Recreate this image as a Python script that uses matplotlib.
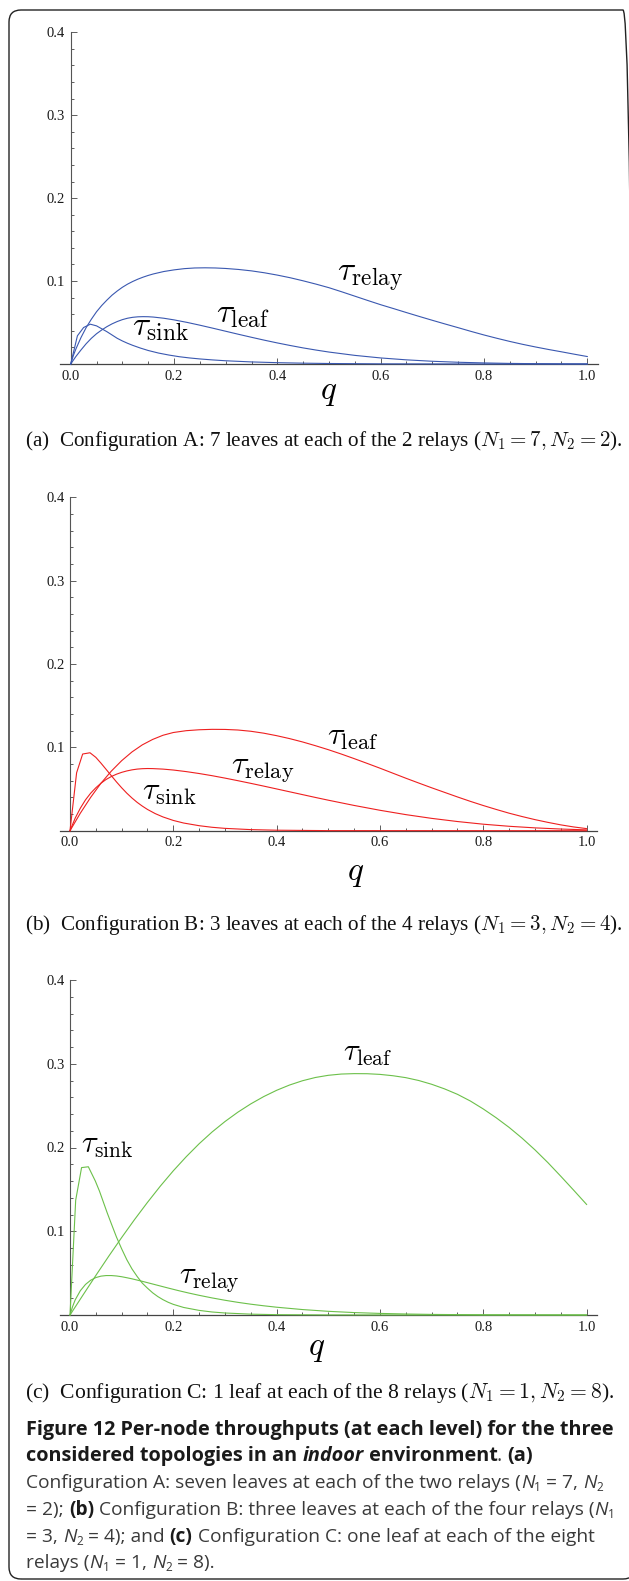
import matplotlib
matplotlib.use("Agg")
import matplotlib.pyplot as plt
import numpy as np
from matplotlib.patches import FancyBboxPatch
from matplotlib.transforms import IdentityTransform
from matplotlib.ticker import FixedLocator, FuncFormatter

plt.rcParams['mathtext.fontset'] = 'cm'

# ---------------- data ----------------
# Panel A (blue): N1 = 7, N2 = 2
qA_relay = [0, 0.005, 0.01, 0.02, 0.03, 0.04, 0.05, 0.06, 0.07, 0.08, 0.09, 0.10, 0.11, 0.12, 0.13, 0.14,
            0.15, 0.16, 0.18, 0.20, 0.22, 0.24, 0.26, 0.28, 0.30, 0.325, 0.35, 0.375, 0.40, 0.425, 0.45,
            0.475, 0.50, 0.525, 0.55, 0.575, 0.60, 0.625, 0.65, 0.675, 0.70, 0.725, 0.75, 0.775, 0.80,
            0.825, 0.85, 0.875, 0.90, 0.925, 0.95, 0.975, 1.00]
tA_relay = [0, 0.010, 0.018, 0.032, 0.044, 0.054, 0.063, 0.0705, 0.077, 0.083, 0.088, 0.0925, 0.0963, 0.0995,
            0.1023, 0.1047, 0.1068, 0.1086, 0.1115, 0.1135, 0.1150, 0.1158, 0.1160, 0.1158, 0.1152, 0.1140,
            0.1123, 0.1100, 0.1072, 0.1040, 0.1003, 0.0963, 0.0920, 0.0870, 0.0818, 0.0766, 0.0715, 0.0668,
            0.0620, 0.0573, 0.0527, 0.0482, 0.0438, 0.0393, 0.0350, 0.0310, 0.0272, 0.0237, 0.0205, 0.0175,
            0.0147, 0.0118, 0.0090]
qA_leaf = [0, 0.01, 0.02, 0.03, 0.04, 0.05, 0.06, 0.07, 0.08, 0.09, 0.10, 0.11, 0.12, 0.13, 0.14, 0.15,
           0.16, 0.18, 0.20, 0.225, 0.25, 0.275, 0.30, 0.325, 0.35, 0.375, 0.40, 0.425, 0.45, 0.475, 0.50,
           0.55, 0.60, 0.65, 0.70, 0.75, 0.80, 0.85, 0.90, 0.95, 1.00]
tA_leaf = [0, 0.009, 0.017, 0.0245, 0.031, 0.0365, 0.041, 0.045, 0.0484, 0.0512, 0.0535, 0.0552, 0.0563,
           0.0569, 0.0571, 0.0570, 0.0566, 0.0552, 0.0532, 0.0502, 0.0468, 0.0432, 0.0395, 0.0358, 0.0322,
           0.0287, 0.0254, 0.0223, 0.0194, 0.0168, 0.0144, 0.0104, 0.0073, 0.0050, 0.0033, 0.0021, 0.0013,
           0.0007, 0.0004, 0.0002, 0.0001]
qA_sink = [0, 0.013, 0.025, 0.038, 0.05, 0.06, 0.07, 0.08, 0.09, 0.10, 0.11, 0.12, 0.135, 0.15, 0.17, 0.19,
           0.21, 0.23, 0.25, 0.275, 0.30, 0.35, 0.40, 0.45, 0.50, 0.60, 0.70, 1.00]
tA_sink = [0, 0.034, 0.044, 0.048, 0.046, 0.0425, 0.039, 0.035, 0.031, 0.0278, 0.0250, 0.0225, 0.0192, 0.0163,
           0.0132, 0.0108, 0.0088, 0.0073, 0.0061, 0.0049, 0.0039, 0.0025, 0.0016, 0.0010, 0.0006, 0.0002,
           0.0001, 0.0]

# Panel B (red): N1 = 3, N2 = 4
qB_leaf = [0, 0.02, 0.04, 0.06, 0.08, 0.10, 0.12, 0.14, 0.16, 0.18, 0.20, 0.225, 0.25, 0.275, 0.30, 0.325,
           0.35, 0.375, 0.40, 0.425, 0.45, 0.475, 0.50, 0.525, 0.55, 0.575, 0.60, 0.625, 0.65, 0.675, 0.70,
           0.725, 0.75, 0.775, 0.80, 0.825, 0.85, 0.875, 0.90, 0.925, 0.95, 0.975, 1.00]
tB_leaf = [0, 0.021, 0.040, 0.057, 0.0715, 0.0840, 0.0945, 0.1030, 0.1095, 0.1145, 0.1178, 0.1200, 0.1211,
           0.1216, 0.1215, 0.1208, 0.1193, 0.1170, 0.1140, 0.1105, 0.1065, 0.1020, 0.0972, 0.0920, 0.0865,
           0.0808, 0.0750, 0.0690, 0.0630, 0.0572, 0.0515, 0.0460, 0.0405, 0.0352, 0.0302, 0.0255, 0.0210,
           0.0170, 0.0133, 0.0100, 0.0070, 0.0045, 0.0025]
qB_relay = [0, 0.01, 0.02, 0.03, 0.04, 0.05, 0.06, 0.07, 0.08, 0.09, 0.10, 0.11, 0.12, 0.13, 0.14, 0.15,
            0.16, 0.18, 0.20, 0.225, 0.25, 0.275, 0.30, 0.325, 0.35, 0.375, 0.40, 0.425, 0.45, 0.475, 0.50,
            0.55, 0.60, 0.65, 0.70, 0.75, 0.80, 0.85, 0.90, 0.95, 1.00]
tB_relay = [0, 0.015, 0.027, 0.037, 0.045, 0.0515, 0.057, 0.0615, 0.065, 0.0678, 0.0700, 0.0717, 0.0730,
            0.0739, 0.0744, 0.0746, 0.0745, 0.0739, 0.0728, 0.0709, 0.0686, 0.0660, 0.0631, 0.0600, 0.0568,
            0.0535, 0.0501, 0.0467, 0.0433, 0.0399, 0.0366, 0.0303, 0.0245, 0.0193, 0.0148, 0.0110, 0.0078,
            0.0053, 0.0034, 0.0020, 0.0010]
qB_sink = [0, 0.0128, 0.0245, 0.0387, 0.05, 0.06, 0.07, 0.08, 0.09, 0.10, 0.11, 0.12, 0.13, 0.14, 0.15,
           0.165, 0.18, 0.20, 0.22, 0.25, 0.275, 0.30, 0.35, 0.40, 0.50, 1.00]
tB_sink = [0, 0.0695, 0.092, 0.0935, 0.088, 0.081, 0.0735, 0.0660, 0.0585, 0.0515, 0.0450, 0.0392, 0.0340,
           0.0295, 0.0255, 0.0205, 0.0165, 0.0123, 0.0092, 0.0060, 0.0041, 0.0028, 0.0013, 0.0006, 0.0001, 0.0]

# Panel C (green): N1 = 1, N2 = 8
qC_leaf = [0, 0.025, 0.05, 0.075, 0.10, 0.125, 0.15, 0.175, 0.20, 0.225, 0.25, 0.275, 0.30, 0.325, 0.35,
           0.375, 0.40, 0.425, 0.45, 0.475, 0.50, 0.525, 0.55, 0.575, 0.60, 0.625, 0.65, 0.675, 0.70, 0.725,
           0.75, 0.775, 0.80, 0.825, 0.85, 0.875, 0.90, 0.925, 0.95, 0.975, 1.00]
tC_leaf = [0, 0.0237, 0.0472, 0.0702, 0.0925, 0.1140, 0.1345, 0.1540, 0.1722, 0.1890, 0.2045, 0.2185, 0.2310,
           0.2422, 0.2521, 0.2608, 0.2683, 0.2746, 0.2797, 0.2836, 0.2862, 0.2877, 0.2882, 0.2881, 0.2873,
           0.2857, 0.2834, 0.2800, 0.2755, 0.2700, 0.2635, 0.2555, 0.2460, 0.2355, 0.2240, 0.2112, 0.1972,
           0.1820, 0.1657, 0.1490, 0.1320]
qC_sink = [0, 0.011, 0.0224, 0.0355, 0.049, 0.057, 0.0645, 0.072, 0.08, 0.09, 0.10, 0.11, 0.12, 0.13, 0.14,
           0.15, 0.16, 0.17, 0.18, 0.19, 0.20, 0.22, 0.25, 0.275, 0.30, 0.35, 0.40, 0.50, 1.00]
tC_sink = [0, 0.137, 0.176, 0.177, 0.160, 0.148, 0.135, 0.122, 0.109, 0.093, 0.079, 0.066, 0.055, 0.046,
           0.038, 0.032, 0.0265, 0.022, 0.0183, 0.0152, 0.0127, 0.0090, 0.0055, 0.0036, 0.0024, 0.0010,
           0.0004, 0.0001, 0.0]
qC_relay = [0, 0.005, 0.01, 0.02, 0.03, 0.04, 0.05, 0.06, 0.07, 0.08, 0.09, 0.10, 0.11, 0.12, 0.13, 0.14,
            0.15, 0.17, 0.19, 0.21, 0.23, 0.25, 0.275, 0.30, 0.325, 0.35, 0.375, 0.40, 0.45, 0.50, 0.55,
            0.60, 0.65, 0.70, 0.80, 0.90, 1.00]
tC_relay = [0, 0.010, 0.018, 0.029, 0.0365, 0.0415, 0.0447, 0.0464, 0.0471, 0.0471, 0.0466, 0.0457, 0.0445,
            0.0432, 0.0417, 0.0402, 0.0386, 0.0354, 0.0322, 0.0291, 0.0262, 0.0235, 0.0204, 0.0176, 0.0151,
            0.0129, 0.0110, 0.0093, 0.0065, 0.0044, 0.0029, 0.0019, 0.0012, 0.0007, 0.0002, 0.0001, 0.0]

x_ticks = [0.0, 0.2, 0.4, 0.6, 0.8, 1.0]
y_ticks = [0.1, 0.2, 0.3, 0.4]

captions = [
    r"(a)  Configuration A: 7 leaves at each of the 2 relays ($N_1 = 7, N_2 = 2$).",
    r"(b)  Configuration B: 3 leaves at each of the 4 relays ($N_1 = 3, N_2 = 4$).",
    r"(c)  Configuration C: 1 leaf at each of the 8 relays ($N_1 = 1, N_2 = 8$).",
]

# ---------------- figure ----------------
W, H = 629, 1581
fig = plt.figure(figsize=(W / 100, H / 100), dpi=100)
renderer = fig.canvas.get_renderer()

XL, XR = -0.02, 1.02


def make_axes(x0_px, x1_px, ytop_px, ybot_px):
    u = x1_px - x0_px
    left = x0_px + XL * u
    right = x0_px + XR * u
    ax = fig.add_axes([left / W, 1 - ybot_px / H, (right - left) / W, (ybot_px - ytop_px) / H])
    ax.set_xlim(XL, XR)
    ax.set_ylim(0, 0.4)
    ax.patch.set_alpha(0)
    for s in ['top', 'right']:
        ax.spines[s].set_visible(False)
    ax.spines['left'].set_position(('data', 0))
    ax.spines['left'].set_color('#555555')
    ax.spines['bottom'].set_color('#444444')
    ax.spines['left'].set_linewidth(0.8)
    ax.spines['bottom'].set_linewidth(0.9)
    ax.xaxis.set_major_locator(FixedLocator(x_ticks))
    ax.xaxis.set_minor_locator(FixedLocator(np.arange(0.05, 1.0, 0.05)))
    ax.yaxis.set_major_locator(FixedLocator(y_ticks))
    ax.yaxis.set_minor_locator(FixedLocator(np.arange(0.02, 0.4, 0.02)))
    ax.xaxis.set_major_formatter(FuncFormatter(lambda v, p: f"{v:.1f}"))
    ax.yaxis.set_major_formatter(FuncFormatter(lambda v, p: f"{v:.1f}"))
    ax.tick_params(which='both', direction='in', color='#444444', width=0.6,
                   labelsize=10.5, labelcolor='#1a1a1a', labelfontfamily='Liberation Serif')
    ax.tick_params(which='major', length=4.5)
    ax.tick_params(which='minor', length=2.2)
    ax.tick_params(axis='x', pad=4)
    ax.tick_params(axis='y', pad=4)
    return ax


def tau_label(ax, x, y, sub, size):
    ax.text(x, y, r"$\tau_{\mathrm{" + sub + r"}}$", fontsize=size, math_fontfamily='cm',
            ha='left', va='baseline', color='black')


panels = [
    dict(x0=70.7, x1=587.3, ytop=32.3, ybot=364.0, color='#3a58b0',
         series=[(qA_relay, tA_relay), (qA_leaf, tA_leaf), (qA_sink, tA_sink)],
         labels=[(0.515, 0.100, 'relay'), (0.282, 0.050, 'leaf'), (0.118, 0.034, 'sink')],
         lsize=24, q=(329, 391), cap=(441, 597)),
    dict(x0=70.0, x1=586.6, ytop=497.3, ybot=830.7, color='#ee2020',
         series=[(qB_leaf, tB_leaf), (qB_relay, tB_relay), (qB_sink, tB_sink)],
         labels=[(0.498, 0.103, 'leaf'), (0.312, 0.069, 'relay'), (0.14, 0.037, 'sink')],
         lsize=23, q=(356, 873), cap=(925, 597)),
    dict(x0=70.0, x1=586.6, ytop=980.0, ybot=1315.0, color='#6cc04a',
         series=[(qC_leaf, tC_leaf), (qC_sink, tC_sink), (qC_relay, tC_relay)],
         labels=[(0.529, 0.304, 'leaf'), (0.0213, 0.194, 'sink'), (0.211, 0.038, 'relay')],
         lsize=22, q=(317, 1348), cap=(1393, 591)),
]

for i, p in enumerate(panels):
    ax = make_axes(p['x0'], p['x1'], p['ytop'], p['ybot'])
    for qs, ts in p['series']:
        ax.plot(qs, ts, color=p['color'], lw=0.8, clip_on=False, zorder=3)
    for (lx, ly, sub) in p['labels']:
        tau_label(ax, lx, ly, sub, p['lsize'])
    qx, qy = p['q']
    fig.text(qx / W, 1 - qy / H, r"$q$", fontsize=24, math_fontfamily='cm', ha='center', va='center')


# ---------------- text helpers ----------------
# a run is (text, style, size_scale, downward_shift_px)
def text_width(s, size, kw):
    t1 = fig.text(0, 0, s + '|', fontsize=size, **kw)
    t2 = fig.text(0, 0, '|', fontsize=size, **kw)
    w = t1.get_window_extent(renderer).width - t2.get_window_extent(renderer).width
    t1.remove()
    t2.remove()
    return w


def norm(run):
    if len(run) == 2:
        return run[0], run[1], 1.0, 0.0
    return run


def runs_width(runs, size):
    tot = 0
    for r in runs:
        s, kw, sc, dy = norm(r)
        tot += text_width(s, size * sc, kw)
    return tot


def place_runs(runs, x, y, size):
    cur = x
    for r in runs:
        s, kw, sc, dy = norm(r)
        fig.text(cur / W, 1 - (y + dy * size / 10.0) / H, s, fontsize=size * sc,
                 ha='left', va='baseline', **kw)
        cur += text_width(s, size * sc, kw)


def fit_size(runs, target, base=10.0):
    return base * target / runs_width(runs, base)


# sub-figure captions (y given as baseline)
serif = dict(family='Liberation Serif', math_fontfamily='cm', color='#111111')
for p, cap in zip(panels, captions):
    cy, cw = p['cap']
    runs = [(cap, serif)]
    sz = fit_size(runs, cw)
    place_runs(runs, 25, cy + 5, sz)

# figure caption
bold = dict(family='Open Sans', weight='bold', color='#1a1a1a')
boldit = dict(family='Open Sans', weight='bold', style='italic', color='#1a1a1a')
reg = dict(family='Open Sans', color='#3a3a3a')
regit = dict(family='Open Sans', style='italic', color='#3a3a3a')


def N(k):
    return [("N", regit), (str(k), reg, 0.62, 2.2)]


line1 = [("Figure 12 Per-node throughputs (at each level) for the three", bold)]
line2 = [("considered topologies in an ", bold), ("indoor", boldit), (" environment", bold),
         (". ", reg), ("(a)", bold)]
line3 = ([("Configuration A: seven leaves at each of the two relays (", reg)] + N(1)
         + [(" = 7, ", reg)] + N(2))
line4 = ([("= 2); ", reg), ("(b)", bold), (" Configuration B: three leaves at each of the four relays (", reg)]
         + N(1))
line5 = ([("= 3, ", reg)] + N(2) + [(" = 4); and ", reg), ("(c)", bold),
                                    (" Configuration C: one leaf at each of the eight", reg)])
line6 = [("relays (", reg)] + N(1) + [(" = 1, ", reg)] + N(2) + [(" = 8).", reg)]

sb = fit_size(line1, 590)
sr = fit_size(line3, 578)
place_runs(line1, 26, 1435, sb)
place_runs(line2, 26, 1461, sb)
place_runs(line3, 26, 1488, sr)
place_runs(line4, 26, 1515, sr)
place_runs(line5, 26, 1542, sr)
place_runs(line6, 26, 1568, sr)

# rounded frame
frame = FancyBboxPatch((9, H - 1579), 635 - 9, 1579 - 10,
                       boxstyle="round,pad=0,rounding_size=12",
                       transform=IdentityTransform(), fill=False, edgecolor='#222222', lw=1.0)
fig.add_artist(frame)

fig.savefig("out.png", dpi=100)
